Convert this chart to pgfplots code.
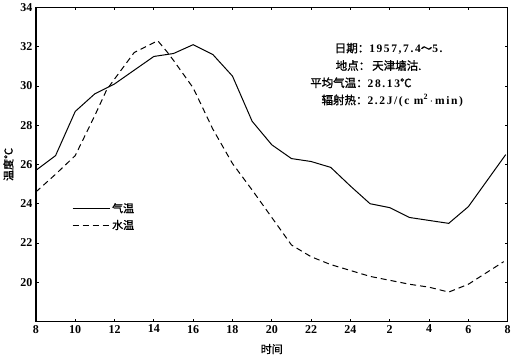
\documentclass[border=0pt]{standalone}
\usepackage{fontspec}
\setmainfont{Liberation Serif}
\newfontfamily\cjk{Noto Sans CJK SC}[FakeBold=1.2]
\newfontfamily\numf{Liberation Serif}[LetterSpace=14]
\usepackage{pgfplots}
\pgfplotsset{compat=1.18}
\begin{document}
\begin{tikzpicture}
\begin{axis}[
  scale only axis, width=470bp, height=313bp,
  xmin=8, xmax=32, ymin=18, ymax=34,
  xtick={8,10,...,32},
  xticklabels={8,10,12,14,16,18,20,22,24,2,4,6,8},
  ytick={20,22,...,34},
  tick align=inside, major tick length=3bp,
  tick style={black, line width=0.8pt},
  axis line style={line width=1.2pt},
  ticklabel style={font=\bfseries\fontsize{12}{13}\selectfont},
  /pgf/number format/assume math mode=true,
  xlabel={\cjk 时间}, ylabel={\cjk 温度℃},
  label style={font=\fontsize{11}{12}\selectfont},
  xlabel style={yshift=-4pt},
  legend style={draw=none, fill=none, at={(rel axis cs:0.07,0.39)}, anchor=north west,
    font=\fontsize{11}{12}\selectfont, row sep=2pt},
  legend cell align=left,
  legend image code/.code={\draw[#1] (0cm,0cm) -- (1.3cm,0cm);},
  clip=false,
]
\addplot[black, line width=1pt] coordinates {
(8,25.7) (9,26.45) (10,28.7) (11,29.6) (12,30.1) (13,30.8) (14,31.5) (15,31.65)
(16,32.1) (17,31.6) (18,30.5) (19,28.2) (20,27.0) (21,26.3) (22,26.15) (23,25.85)
(24,24.9) (25,24.0) (26,23.8) (27,23.3) (28,23.15) (29,23.0) (30,23.85) (31.9,26.5)};
\addlegendentry{\cjk 气温}
\addplot[black, line width=1pt, dash pattern=on 6pt off 4pt] coordinates {
(8,24.6) (9,25.5) (10,26.45) (11,28.5) (11.6,29.8) (12,30.35) (13,31.7) (14.2,32.3)
(14.7,31.7) (15,31.3) (16,29.9) (17,27.8) (18,26.05) (19,24.7) (20,23.3) (21,21.9)
(22,21.3) (23,20.9) (24,20.6) (25,20.3) (26,20.1) (27,19.9) (28,19.75) (29,19.5)
(30,19.9) (31.8,21.05)};
\addlegendentry{\cjk 水温}
\node[anchor=west, font=\fontsize{11.5}{13}\selectfont] at (rel axis cs:0.626,0.869)
  {{\cjk 日期：}{\numf\bfseries 1957,7.4}{\cjk ～}{\numf\bfseries 5.}};
\node[anchor=west, font=\fontsize{11.5}{13}\selectfont] at (rel axis cs:0.628,0.815)
  {{\cjk 地点：\hspace{2pt}天津塘沽.}};
\node[anchor=west, font=\fontsize{11.5}{13}\selectfont] at (rel axis cs:0.574,0.760)
  {{\cjk 平均气温：}{\numf\bfseries 28.13}{\cjk ℃}};
\node[anchor=west, font=\fontsize{11.5}{13}\selectfont] at (rel axis cs:0.598,0.703)
  {{\cjk 辐射热：}{\numf\bfseries 2.2J/(c m\textsuperscript{2}\,$\cdot$\,min)}};
\end{axis}
\end{tikzpicture}
\end{document}
